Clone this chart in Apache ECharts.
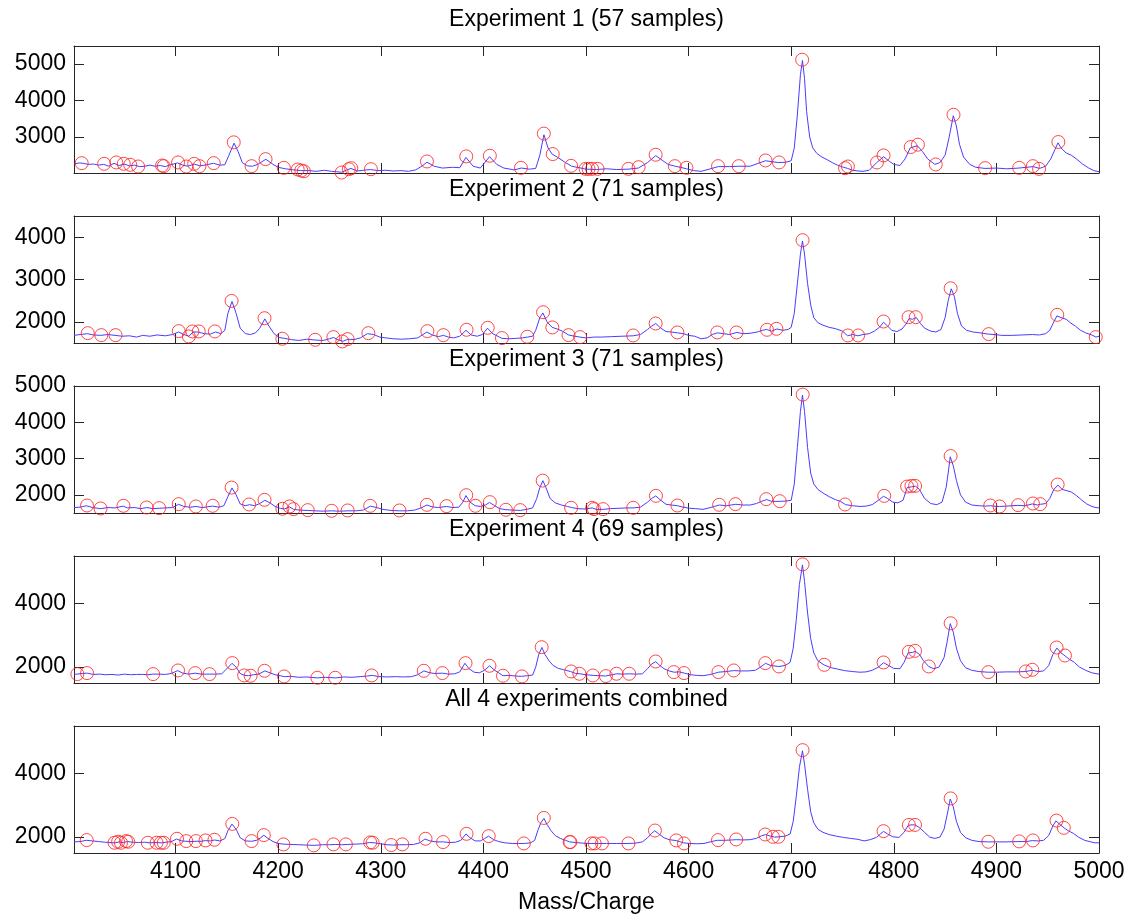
<!DOCTYPE html>
<html>
<head>
<meta charset="utf-8">
<script src="https://cdn.jsdelivr.net/npm/echarts@6/dist/echarts.min.js"></script>
<style>
  html, body { margin: 0; padding: 0; background: #fff; }
  #chart { width: 1129px; height: 915px; }
</style>
</head>
<body>
<div id="chart"></div>
<script>
// panel titles
const titles = ['Experiment 1 (57 samples)', 'Experiment 2 (71 samples)', 'Experiment 3 (71 samples)',
    'Experiment 4 (69 samples)', 'All 4 experiments combined'];
const xTicks = [4100, 4200, 4300, 4400, 4500, 4600, 4700, 4800, 4900, 5000];
const yTicks = [[3000, 4000, 5000], [2000, 3000, 4000], [2000, 3000, 4000, 5000], [2000, 4000], [2000, 4000]];
const yMin = [2015, 1500, 1500, 1500, 1500];
const yMax = [5485, 4500, 5000, 5500, 5500];

// spectrum 1
const spec1Mz = [4001, 4006, 4010, 4015, 4020, 4025, 4030, 4035, 4040, 4045, 4050, 4055, 4060, 4065, 4070, 4075, 4080, 4085, 4090, 4095,
    4102, 4107, 4112, 4118, 4124, 4130, 4137, 4143, 4148, 4152, 4157, 4161, 4165, 4170, 4175, 4180, 4188, 4195, 4200, 4207,
    4215, 4222, 4230, 4237, 4245, 4252, 4257, 4262, 4267, 4271, 4277, 4283, 4290, 4297, 4305, 4312, 4320, 4327, 4334, 4340,
    4345, 4352, 4360, 4370, 4377, 4383, 4390, 4397, 4406, 4413, 4420, 4430, 4437, 4445, 4451, 4455, 4459, 4463, 4467, 4472,
    4480, 4486, 4495, 4500, 4510, 4520, 4530, 4541, 4551, 4560, 4568, 4575, 4580, 4587, 4592, 4598, 4605, 4612, 4620, 4629,
    4640, 4649, 4660, 4668, 4675, 4682, 4688, 4695, 4700, 4703, 4706, 4709, 4711, 4713, 4715, 4718, 4721, 4725, 4730, 4735,
    4740, 4745, 4750, 4755, 4760, 4765, 4770, 4776, 4783, 4790, 4795, 4800, 4806, 4811, 4816, 4823, 4828, 4833, 4840, 4845,
    4850, 4854, 4858, 4861, 4864, 4868, 4874, 4880, 4889, 4900, 4910, 4922, 4936, 4942, 4948, 4953, 4957, 4960, 4963, 4968,
    4973, 4978, 4984, 4990, 4995, 5000];
const spec1Val = [2260, 2290, 2280, 2250, 2260, 2230, 2250, 2200, 2280, 2220, 2260, 2210, 2230, 2190, 2200, 2230, 2200, 2220, 2190, 2240,
    2290, 2230, 2200, 2260, 2210, 2240, 2280, 2230, 2240, 2500, 2830, 2600, 2300, 2210, 2200, 2250, 2390, 2250, 2170, 2130,
    2100, 2080, 2080, 2060, 2090, 2060, 2050, 2035, 2100, 2140, 2070, 2090, 2110, 2080, 2090, 2070, 2080, 2060, 2100, 2200,
    2310, 2200, 2150, 2170, 2160, 2440, 2200, 2150, 2460, 2250, 2150, 2100, 2150, 2120, 2140, 2500, 3060, 2700, 2530, 2450,
    2300, 2200, 2150, 2120, 2110, 2130, 2110, 2120, 2150, 2300, 2490, 2350, 2250, 2200, 2170, 2130, 2080, 2060, 2120, 2190,
    2190, 2200, 2200, 2280, 2350, 2320, 2300, 2310, 2350, 2700, 3600, 4700, 5090, 4600, 3700, 3000, 2700, 2550, 2450, 2380,
    2300, 2230, 2180, 2140, 2090, 2070, 2060, 2090, 2290, 2460, 2350, 2250, 2220, 2400, 2700, 2760, 2600, 2400, 2250, 2300,
    2500, 3000, 3580, 3300, 2800, 2450, 2250, 2170, 2140, 2150, 2130, 2150, 2190, 2140, 2200, 2400, 2650, 2840, 2700, 2560,
    2500, 2400, 2260, 2150, 2080, 2050];
const peak1Mz = [4008.5, 4030.4, 4042.2, 4049.5, 4055.8, 4063.5, 4086.8, 4088.5, 4102.4, 4110.4, 4118.1, 4123.3, 4137.2, 4156.7, 4174.1,
    4187.7, 4205.5, 4219, 4222.5, 4225, 4261.9, 4268.8, 4271.2, 4290.4, 4345, 4383.3, 4406.3, 4436.6, 4458.9, 4467.6,
    4485.5, 4499.6, 4502.5, 4506, 4511.3, 4541.4, 4551.3, 4567.9, 4586.6, 4597.9, 4628.7, 4648.9, 4675, 4688.1, 4710.7,
    4752.5, 4755.3, 4783.6, 4790, 4816.5, 4823.5, 4840.9, 4858.2, 4889, 4922.2, 4935.6, 4941.6, 4960.4];
const peak1Val = [2284, 2266, 2303, 2266, 2239, 2193, 2220, 2202, 2303, 2193, 2266, 2202, 2284, 2853, 2202,
    2394, 2156, 2110, 2083, 2064, 2028, 2119, 2147, 2119, 2330, 2468, 2486, 2156, 3092, 2532,
    2211, 2128, 2128, 2128, 2128, 2128, 2174, 2514, 2202, 2156, 2202, 2202, 2358, 2303, 5110,
    2147, 2193, 2303, 2495, 2725, 2789, 2248, 3606, 2147, 2156, 2202, 2128, 2862];

// spectrum 2
const spec2Mz = [4001, 4007, 4014, 4020, 4027, 4034, 4041, 4048, 4055, 4062, 4068, 4075, 4082, 4090, 4097, 4103, 4108, 4113, 4117, 4122,
    4128, 4134, 4139, 4144, 4148, 4151, 4155, 4159, 4163, 4168, 4173, 4178, 4182, 4187, 4191, 4196, 4201, 4206, 4213, 4220,
    4228, 4236, 4244, 4250, 4254, 4258, 4263, 4268, 4274, 4280, 4287, 4293, 4299, 4305, 4312, 4320, 4328, 4336, 4341, 4345,
    4350, 4356, 4361, 4366, 4371, 4377, 4383, 4388, 4394, 4399, 4404, 4409, 4414, 4418, 4425, 4432, 4438, 4443, 4448, 4451,
    4455, 4458, 4462, 4467, 4472, 4477, 4483, 4489, 4494, 4500, 4508, 4515, 4525, 4535, 4546, 4553, 4560, 4564, 4568, 4573,
    4578, 4583, 4589, 4595, 4600, 4606, 4612, 4618, 4623, 4628, 4634, 4640, 4647, 4653, 4660, 4667, 4672, 4676, 4681, 4686,
    4692, 4697, 4700, 4703, 4706, 4709, 4711, 4713, 4716, 4719, 4722, 4726, 4731, 4737, 4743, 4750, 4755, 4760, 4765, 4770,
    4776, 4781, 4786, 4790, 4794, 4798, 4803, 4808, 4812, 4815, 4818, 4822, 4826, 4830, 4836, 4841, 4846, 4850, 4853, 4856,
    4859, 4862, 4866, 4871, 4877, 4884, 4892, 4899, 4905, 4915, 4925, 4935, 4942, 4948, 4952, 4956, 4959, 4963, 4968, 4972,
    4977, 4982, 4987, 4993, 4997, 5000];
const spec2Val = [1680, 1700, 1720, 1690, 1680, 1700, 1680, 1660, 1670, 1640, 1680, 1660, 1690, 1670, 1700, 1760, 1700, 1660, 1760, 1760,
    1720, 1710, 1760, 1720, 1800, 2200, 2480, 2200, 1850, 1720, 1700, 1740, 1850, 2070, 1900, 1720, 1630, 1610, 1580, 1560,
    1590, 1570, 1560, 1600, 1630, 1580, 1540, 1590, 1580, 1620, 1720, 1700, 1640, 1620, 1600, 1590, 1600, 1620, 1700, 1760,
    1690, 1650, 1680, 1640, 1620, 1660, 1800, 1690, 1660, 1700, 1850, 1720, 1660, 1610, 1600, 1610, 1620, 1640, 1660, 1800,
    2100, 2210, 2000, 1870, 1830, 1780, 1690, 1660, 1640, 1620, 1640, 1640, 1650, 1660, 1670, 1700, 1820, 1900, 1960, 1850,
    1770, 1760, 1740, 1720, 1680, 1660, 1600, 1620, 1700, 1740, 1720, 1700, 1750, 1720, 1730, 1760, 1800, 1820, 1780, 1830,
    1800, 1820, 1870, 2200, 2900, 3600, 3910, 3600, 2900, 2400, 2100, 1980, 1920, 1870, 1840, 1780, 1670, 1700, 1670, 1700,
    1720, 1780, 1870, 1990, 1900, 1800, 1770, 1830, 1950, 2080, 2060, 2100, 1960, 1850, 1780, 1760, 1820, 2100, 2500, 2780,
    2600, 2200, 1900, 1800, 1760, 1740, 1710, 1700, 1680, 1680, 1690, 1700, 1690, 1720, 1800, 2000, 2140, 2100, 2060, 1980,
    1900, 1800, 1740, 1690, 1640, 1660];
const peak2Mz = [4014.4, 4027.6, 4041.5, 4103.1, 4112.9, 4116.4, 4122.6, 4138.3, 4154.6, 4186.7, 4204.1, 4236.1, 4253.8, 4262.5, 4267.7,
    4287.9, 4345.4, 4361, 4383.6, 4404.2, 4418.1, 4442.8, 4458.2, 4467.2, 4483, 4494.3, 4546, 4567.9, 4589.1, 4628,
    4646.7, 4676.4, 4685.6, 4711.1, 4755.3, 4765.2, 4790, 4814.4, 4821.4, 4855.4, 4892.5, 4959.3, 4996.8];
const peak2Val = [1733, 1686, 1686, 1780, 1655, 1773, 1773, 1773, 2494, 2086, 1600, 1576, 1639, 1537, 1592,
    1733, 1780, 1686, 1812, 1859, 1616, 1647, 2227, 1867, 1686, 1639, 1678, 1961, 1749, 1749,
    1749, 1812, 1835, 3929, 1678, 1678, 2008, 2110, 2110, 2792, 1710, 2165, 1639];

// spectrum 3
const spec3Mz = [4001, 4007, 4013, 4019, 4027, 4034, 4041, 4049, 4053, 4060, 4066, 4072, 4078, 4084, 4090, 4097, 4103, 4108, 4114, 4120,
    4126, 4131, 4136, 4142, 4147, 4151, 4155, 4159, 4163, 4168, 4172, 4177, 4182, 4187, 4192, 4197, 4202, 4206, 4211, 4215,
    4221, 4229, 4236, 4244, 4252, 4260, 4268, 4276, 4283, 4290, 4296, 4302, 4310, 4318, 4326, 4333, 4340, 4345, 4350, 4356,
    4364, 4370, 4376, 4380, 4383, 4387, 4392, 4397, 4402, 4406, 4411, 4416, 4422, 4429, 4436, 4442, 4448, 4452, 4455, 4458,
    4461, 4465, 4470, 4476, 4482, 4486, 4492, 4499, 4506, 4510, 4517, 4524, 4532, 4540, 4546, 4553, 4560, 4564, 4568, 4573,
    4578, 4583, 4589, 4595, 4601, 4607, 4614, 4620, 4625, 4630, 4637, 4646, 4653, 4660, 4666, 4671, 4676, 4681, 4689, 4695,
    4700, 4703, 4706, 4709, 4711, 4713, 4716, 4719, 4722, 4726, 4731, 4737, 4743, 4748, 4753, 4760, 4767, 4773, 4779, 4785,
    4790, 4794, 4799, 4804, 4809, 4813, 4817, 4821, 4825, 4830, 4836, 4842, 4847, 4851, 4853, 4855, 4858, 4861, 4865, 4870,
    4876, 4883, 4889, 4894, 4900, 4903, 4910, 4915, 4921, 4928, 4935, 4940, 4943, 4948, 4952, 4956, 4960, 4964, 4968, 4973,
    4978, 4983, 4988, 4993, 4997, 5000];
const spec3Val = [1650, 1660, 1700, 1650, 1620, 1650, 1640, 1690, 1640, 1650, 1620, 1650, 1620, 1630, 1640, 1650, 1740, 1680, 1660, 1680,
    1650, 1670, 1690, 1660, 1700, 1950, 2190, 2000, 1750, 1700, 1730, 1700, 1760, 1850, 1780, 1680, 1630, 1610, 1670, 1600,
    1580, 1570, 1560, 1550, 1560, 1550, 1560, 1560, 1580, 1690, 1650, 1600, 1570, 1560, 1560, 1580, 1650, 1720, 1670, 1650,
    1680, 1650, 1660, 1800, 1980, 1800, 1700, 1680, 1720, 1790, 1700, 1620, 1590, 1580, 1570, 1600, 1640, 1900, 2200, 2390,
    2200, 1900, 1780, 1720, 1680, 1650, 1620, 1610, 1640, 1600, 1600, 1620, 1630, 1640, 1640, 1660, 1800, 1900, 1970, 1850,
    1740, 1720, 1700, 1660, 1630, 1620, 1600, 1640, 1680, 1720, 1700, 1740, 1720, 1720, 1760, 1820, 1870, 1820, 1820, 1830,
    1850, 2300, 3300, 4300, 4750, 4300, 3300, 2600, 2300, 2150, 2050, 1950, 1870, 1820, 1730, 1700, 1680, 1690, 1730, 1850,
    1960, 1900, 1800, 1780, 1850, 2200, 2220, 2240, 2150, 1900, 1760, 1730, 1800, 2200, 2600, 3050, 2800, 2400, 2000, 1800,
    1720, 1700, 1690, 1700, 1680, 1680, 1690, 1700, 1710, 1700, 1750, 1720, 1740, 1760, 1900, 2150, 2270, 2150, 2120, 2080,
    1980, 1860, 1750, 1680, 1650, 1640];
const peak3Mz = [4013.7, 4026.9, 4049.2, 4071.8, 4084, 4103.1, 4119.8, 4136.2, 4154.6, 4171.7, 4186.7, 4204.1, 4211, 4214.9, 4228.8,
    4252.1, 4267.7, 4289.7, 4318.2, 4345, 4364.1, 4383.3, 4392.3, 4406.3, 4421.9, 4435.9, 4457.8, 4485.5, 4506, 4507.8,
    4516.6, 4546, 4568.2, 4589.1, 4629.8, 4645.7, 4675.7, 4688.8, 4711.2, 4752.5, 4790.7, 4813, 4817.2, 4820.8, 4855.4,
    4894, 4903.1, 4921.2, 4935.6, 4942.7, 4959.7];
const peak3Val = [1707, 1625, 1698, 1652, 1634, 1744, 1680, 1698, 2201, 1735, 1863, 1616, 1680, 1607, 1579,
    1561, 1570, 1698, 1570, 1726, 1689, 1991, 1698, 1799, 1588, 1579, 2393, 1643, 1643, 1607,
    1607, 1643, 1973, 1707, 1726, 1744, 1881, 1826, 4763, 1735, 1973, 2229, 2247, 2247, 3070,
    1707, 1680, 1716, 1762, 1744, 2284];

// spectrum 4
const spec4Mz = [4001, 4004, 4009, 4014, 4020, 4026, 4032, 4038, 4044, 4050, 4056, 4062, 4068, 4073, 4078, 4084, 4090, 4096, 4102, 4107,
    4113, 4119, 4125, 4130, 4133, 4139, 4145, 4150, 4155, 4159, 4163, 4167, 4171, 4176, 4181, 4187, 4192, 4197, 4202, 4206,
    4212, 4220, 4228, 4238, 4246, 4256, 4264, 4272, 4280, 4287, 4292, 4298, 4306, 4314, 4322, 4330, 4336, 4342, 4347, 4352,
    4360, 4366, 4372, 4377, 4382, 4386, 4391, 4396, 4401, 4406, 4411, 4415, 4419, 4425, 4431, 4437, 4443, 4448, 4451, 4454,
    4457, 4460, 4464, 4468, 4473, 4478, 4485, 4490, 4494, 4500, 4507, 4513, 4519, 4525, 4530, 4536, 4542, 4548, 4555, 4560,
    4564, 4568, 4572, 4576, 4581, 4586, 4591, 4596, 4602, 4608, 4614, 4620, 4625, 4629, 4636, 4644, 4651, 4658, 4665, 4670,
    4675, 4680, 4688, 4694, 4699, 4702, 4705, 4708, 4711, 4713, 4716, 4719, 4722, 4726, 4732, 4738, 4745, 4752, 4760, 4767,
    4773, 4779, 4785, 4790, 4795, 4800, 4806, 4810, 4814, 4818, 4821, 4825, 4829, 4834, 4839, 4844, 4849, 4852, 4855, 4858,
    4861, 4865, 4870, 4876, 4883, 4892, 4900, 4910, 4920, 4928, 4935, 4941, 4946, 4951, 4955, 4959, 4963, 4967, 4971, 4976,
    4981, 4987, 4993, 5000];
const spec4Val = [1780, 1780, 1800, 1810, 1770, 1780, 1760, 1770, 1750, 1780, 1760, 1770, 1770, 1760, 1780, 1780, 1770, 1800, 1890, 1810,
    1780, 1810, 1780, 1780, 1780, 1780, 1790, 1950, 2120, 2000, 1800, 1740, 1730, 1760, 1780, 1880, 1820, 1760, 1730, 1700,
    1710, 1680, 1690, 1660, 1680, 1660, 1690, 1680, 1700, 1720, 1740, 1700, 1690, 1700, 1690, 1700, 1760, 1880, 1830, 1800,
    1810, 1780, 1790, 1850, 2120, 1950, 1840, 1820, 1900, 2040, 1900, 1820, 1730, 1740, 1720, 1710, 1730, 1750, 2000, 2400,
    2620, 2400, 2200, 2050, 1960, 1920, 1860, 1800, 1790, 1760, 1740, 1730, 1720, 1760, 1790, 1780, 1790, 1780, 1790, 1950,
    2100, 2170, 2050, 1950, 1880, 1840, 1850, 1810, 1760, 1740, 1730, 1760, 1800, 1840, 1860, 1890, 1880, 1880, 1900, 2000,
    2120, 2050, 2020, 2050, 2150, 2600, 3500, 4600, 5220, 4700, 3700, 2900, 2450, 2200, 2070, 1990, 1940, 1890, 1860, 1840,
    1850, 1900, 2000, 2140, 2050, 1960, 1950, 2150, 2450, 2460, 2500, 2400, 2200, 2020, 1950, 2000, 2300, 2800, 3370, 3100,
    2600, 2200, 1980, 1900, 1860, 1840, 1840, 1850, 1850, 1860, 1900, 1860, 1880, 2050, 2400, 2600, 2450, 2350, 2250, 2150,
    2000, 1900, 1820, 1780];
const peak4Mz = [4004.3, 4013.7, 4078.1, 4102.4, 4119.1, 4133.1, 4155.3, 4166.8, 4173.1, 4186.7, 4205.8, 4238.2, 4255.6, 4291.1, 4341.9,
    4360, 4382.6, 4405.9, 4419.1, 4437.6, 4456.8, 4485.5, 4493.6, 4506.7, 4519.4, 4529.7, 4542.1, 4567.9, 4585.6, 4595.5,
    4629.1, 4644, 4674.8, 4688.1, 4711.1, 4732.3, 4790, 4814.7, 4820.7, 4834.1, 4855.4, 4892.1, 4928.6, 4935, 4958.7, 4966.8];
const peak4Val = [1780, 1812, 1780, 1895, 1812, 1780, 2126, 1738, 1728, 1885, 1707, 1665, 1665, 1738, 1885,
    1812, 2126, 2042, 1728, 1707, 2628, 1864, 1791, 1738, 1717, 1791, 1791, 2178, 1843, 1812,
    1843, 1895, 2126, 2021, 5236, 2073, 2147, 2482, 2513, 2021, 3382, 1843, 1864, 1916, 2618, 2366];

// combined spectrum
const spec5Mz = [4001, 4007, 4013, 4019, 4025, 4031, 4036, 4041, 4045, 4049, 4053, 4058, 4064, 4070, 4075, 4081, 4086, 4091, 4096, 4101,
    4106, 4110, 4115, 4120, 4125, 4129, 4134, 4138, 4143, 4148, 4151, 4155, 4159, 4163, 4168, 4174, 4179, 4183, 4186, 4190,
    4195, 4200, 4205, 4212, 4220, 4228, 4235, 4243, 4250, 4256, 4262, 4268, 4275, 4282, 4289, 4294, 4300, 4306, 4312, 4318,
    4325, 4332, 4338, 4343, 4348, 4354, 4361, 4367, 4373, 4378, 4383, 4387, 4392, 4397, 4401, 4405, 4410, 4415, 4421, 4428,
    4434, 4440, 4446, 4450, 4453, 4456, 4459, 4462, 4466, 4470, 4475, 4480, 4484, 4490, 4497, 4505, 4512, 4520, 4530, 4541,
    4548, 4555, 4560, 4564, 4567, 4571, 4576, 4581, 4588, 4595, 4601, 4608, 4615, 4621, 4628, 4635, 4642, 4647, 4653, 4660,
    4666, 4671, 4675, 4680, 4684, 4688, 4694, 4699, 4702, 4705, 4708, 4711, 4713, 4716, 4719, 4722, 4726, 4731, 4737, 4744,
    4751, 4758, 4765, 4771, 4777, 4783, 4787, 4790, 4794, 4799, 4805, 4810, 4814, 4818, 4821, 4825, 4830, 4835, 4840, 4845,
    4849, 4852, 4855, 4858, 4861, 4865, 4870, 4876, 4883, 4892, 4900, 4910, 4922, 4929, 4935, 4941, 4946, 4951, 4955, 4958,
    4962, 4966, 4970, 4975, 4980, 4986, 4992, 4996, 5000];
const spec5Val = [1850, 1860, 1900, 1880, 1860, 1840, 1830, 1820, 1850, 1830, 1860, 1840, 1830, 1840, 1820, 1830, 1820, 1840, 1860, 1940,
    1880, 1870, 1860, 1870, 1870, 1890, 1880, 1910, 1880, 1950, 2200, 2410, 2250, 1980, 1880, 1870, 1900, 1980, 2060, 1960,
    1860, 1800, 1780, 1770, 1760, 1750, 1740, 1760, 1760, 1770, 1760, 1770, 1780, 1790, 1830, 1820, 1790, 1760, 1750, 1760,
    1760, 1770, 1820, 1940, 1880, 1850, 1850, 1830, 1840, 1900, 2100, 1980, 1880, 1880, 1950, 2030, 1920, 1860, 1820, 1800,
    1800, 1800, 1820, 1900, 2200, 2450, 2590, 2400, 2200, 2050, 1960, 1900, 1850, 1830, 1810, 1800, 1800, 1800, 1800, 1800,
    1810, 1850, 1980, 2120, 2200, 2100, 1980, 1920, 1890, 1820, 1800, 1790, 1800, 1850, 1900, 1900, 1910, 1920, 1910, 1920,
    1960, 2040, 2080, 2030, 2000, 2010, 2030, 2100, 2500, 3300, 4200, 4720, 4300, 3500, 2800, 2450, 2250, 2150, 2080, 2030,
    1990, 1960, 1930, 1880, 1920, 1990, 2100, 2180, 2100, 2010, 1990, 2150, 2370, 2390, 2380, 2300, 2150, 2000, 1960, 2000,
    2250, 2700, 3200, 2950, 2500, 2150, 1980, 1900, 1860, 1850, 1850, 1850, 1860, 1860, 1890, 1880, 1900, 2050, 2350, 2510,
    2400, 2290, 2200, 2120, 2000, 1900, 1850, 1820, 1820];
const peak5Mz = [4013.4, 4040.5, 4044, 4046.8, 4051.7, 4053.8, 4072.9, 4081.5, 4085.7, 4088.5, 4101.4, 4110.4, 4119.8, 4129.2, 4137.9,
    4155.3, 4174.1, 4186, 4205.1, 4234.7, 4253.8, 4266, 4289.7, 4292.1, 4310.2, 4321, 4343.6, 4360.7, 4383.6, 4405.2,
    4439.4, 4458.9, 4484.1, 4484.8, 4505.3, 4508.5, 4515.6, 4541.4, 4567.2, 4588, 4595.5, 4628.7, 4646.4, 4674.7, 4682.2,
    4687.5, 4711.1, 4790, 4814.7, 4820.7, 4855.4, 4892.1, 4922.2, 4935.6, 4958.6, 4965.7];
const peak5Val = [1906, 1823, 1854, 1823, 1875, 1854, 1823, 1823, 1823, 1823, 1948, 1875, 1875, 1896, 1917,
    2417, 1875, 2063, 1771, 1740, 1771, 1771, 1833, 1823, 1750, 1771, 1948, 1844, 2104, 2031,
    1802, 2604, 1844, 1844, 1802, 1802, 1802, 1802, 2208, 1896, 1802, 1906, 1927, 2083, 2010,
    2010, 4740, 2188, 2385, 2385, 3219, 1854, 1865, 1896, 2521, 2292];

const specMz = [spec1Mz, spec2Mz, spec3Mz, spec4Mz, spec5Mz];
const specVal = [spec1Val, spec2Val, spec3Val, spec4Val, spec5Val];
const peakMz = [peak1Mz, peak2Mz, peak3Mz, peak4Mz, peak5Mz];
const peakVal = [peak1Val, peak2Val, peak3Val, peak4Val, peak5Val];

const FONT = 'Liberation Sans, Arial, sans-serif';
const axisColor = '#262626';
const plotTops = [46, 216, 386, 556, 726];
const plotHeight = 127;

const zip = (xs, ys) => xs.map((x, i) => [x, ys[i]]);
// plain numbers on the ticks, no thousands separator
const plain = v => String(v);

let grid = [], xAxis = [], yAxis = [], series = [], title = [];
plotTops.forEach((top, i) => {
    grid.push({ left: 74, right: 30, top: top, height: plotHeight });
    title.push({
        text: titles[i], left: 586.5, textAlign: 'center', top: top - 37.6, padding: 0,
        textStyle: { fontFamily: FONT, fontSize: 23, fontWeight: 'normal', color: '#000' }
    });
    const last = i === plotTops.length - 1;
    ['bottom', 'top'].forEach(pos => {
        xAxis.push({
            type: 'value', gridIndex: i, position: pos, min: 4001, max: 5000,
            axisLine: { show: true, onZero: false, lineStyle: { color: axisColor, width: 1 } },
            axisTick: { show: true, inside: true, length: 10, customValues: xTicks, lineStyle: { color: axisColor } },
            axisLabel: {
                show: last && pos === 'bottom', customValues: xTicks, margin: 7, formatter: plain,
                fontFamily: FONT, fontSize: 23, color: '#000'
            },
            splitLine: { show: false }
        });
    });
    ['left', 'right'].forEach(pos => {
        yAxis.push({
            type: 'value', gridIndex: i, position: pos, min: yMin[i], max: yMax[i],
            axisLine: { show: true, onZero: false, lineStyle: { color: axisColor, width: 1 } },
            axisTick: { show: true, inside: true, length: 10, customValues: yTicks[i], lineStyle: { color: axisColor } },
            axisLabel: {
                show: pos === 'left', customValues: yTicks[i], margin: 8, formatter: plain,
                fontFamily: FONT, fontSize: 23, color: '#000'
            },
            splitLine: { show: false }
        });
    });
    series.push({
        type: 'line', xAxisIndex: i * 2, yAxisIndex: i * 2,
        data: zip(specMz[i], specVal[i]),
        showSymbol: false, symbol: 'none',
        lineStyle: { color: '#4a3cff', width: 1 },
        z: 2
    });
    series.push({
        type: 'scatter', xAxisIndex: i * 2, yAxisIndex: i * 2,
        data: zip(peakMz[i], peakVal[i]),
        symbol: 'circle', symbolSize: 13,
        itemStyle: { color: 'rgba(0,0,0,0)', borderColor: '#ff1a1a', borderWidth: 1 },
        clip: false,
        z: 3
    });
});
title.push({
    text: 'Mass/Charge', left: 586.5, textAlign: 'center', top: 891, padding: 0,
    textStyle: { fontFamily: FONT, fontSize: 23, fontWeight: 'normal', color: '#000' }
});

let option = {
    backgroundColor: '#fff',
    animation: false,
    title: title,
    grid: grid,
    xAxis: xAxis,
    yAxis: yAxis,
    series: series
};

const myChart = echarts.init(document.getElementById('chart'), null, { renderer: 'canvas' });
myChart.setOption(option);
</script>
</body>
</html>
